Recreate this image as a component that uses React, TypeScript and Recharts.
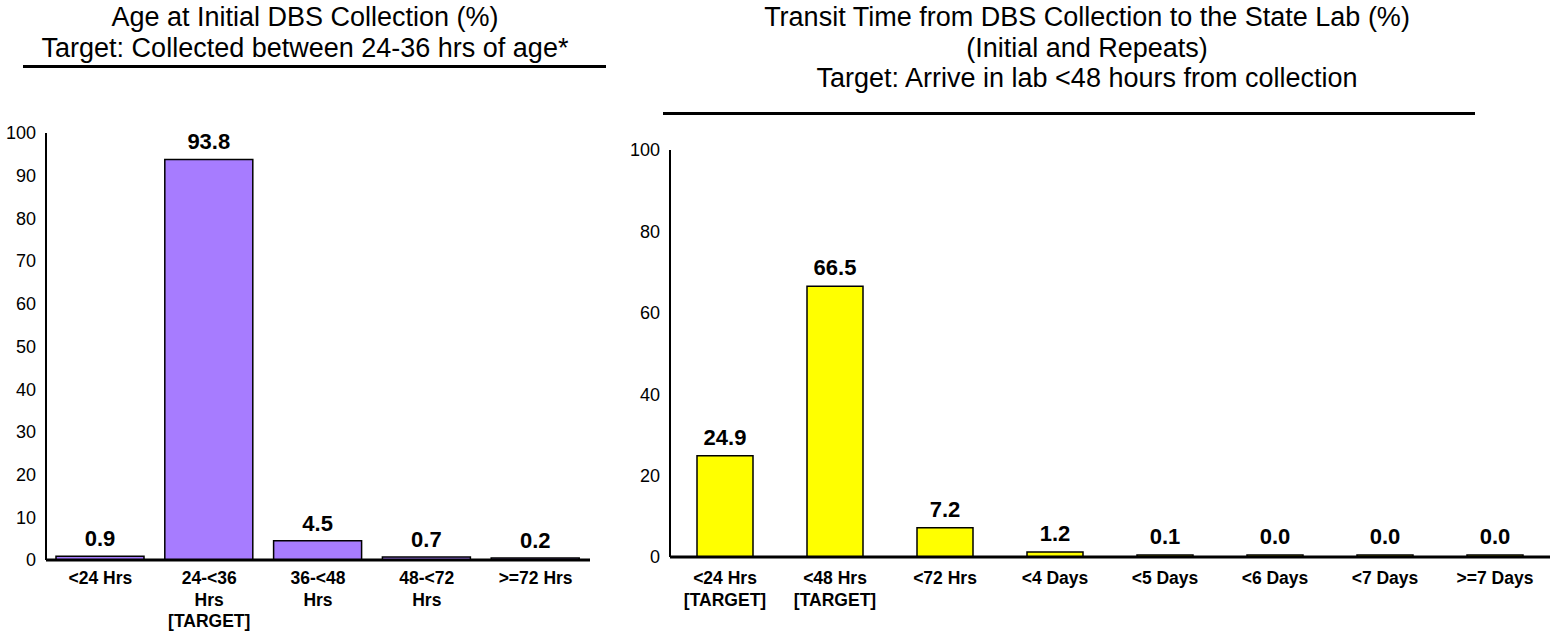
import React from "react";
import { BarChart, Bar, XAxis, YAxis, LabelList } from "recharts";

const ageCategories = ["<24 Hrs", "24-<36\nHrs\n[TARGET]", "36-<48\nHrs", "48-<72\nHrs", ">=72 Hrs"];
const ageValues = [0.9, 93.8, 4.5, 0.7, 0.2];
const ageTicks = [0, 10, 20, 30, 40, 50, 60, 70, 80, 90, 100];

const transitCategories = [
  "<24 Hrs\n[TARGET]",
  "<48 Hrs\n[TARGET]",
  "<72 Hrs",
  "<4 Days",
  "<5 Days",
  "<6 Days",
  "<7 Days",
  ">=7 Days",
];
const transitValues = [24.9, 66.5, 7.2, 1.2, 0.1, 0.0, 0.0, 0.0];
const transitTicks = [0, 20, 40, 60, 80, 100];

const ageData = ageCategories.map((name, i) => ({ name, value: ageValues[i] }));
const transitData = transitCategories.map((name, i) => ({ name, value: transitValues[i] }));

const FONT = "'Liberation Sans', Arial, sans-serif";

// tick label split on \n into several lines
function MultiTick(props: any) {
  const { x, y, payload, first } = props;
  const lines = String(payload.value).split("\n");
  return (
    <g transform={`translate(${x},${y})`}>
      {lines.map((l: string, i: number) => (
        <text
          key={i}
          x={0}
          y={i * 21.5 + first}
          textAnchor="middle"
          fontFamily={FONT}
          fontSize={17.5}
          fontWeight="bold"
          fill="#000"
        >
          {l}
        </text>
      ))}
    </g>
  );
}

const yTick = { fontSize: 18, fill: "#000", fontFamily: FONT };
const valueStyle = { fontSize: 22, fontWeight: "bold", fill: "#000", fontFamily: FONT };
const fmt = (v: any) => Number(v).toFixed(1);

function Title({ lines, cx, top }: { lines: string[]; cx: number; top: number }) {
  return (
    <div
      style={{
        position: "absolute",
        left: cx - 450,
        top,
        width: 900,
        textAlign: "center",
        fontFamily: FONT,
        fontSize: 27,
        lineHeight: "30.5px",
        color: "#000",
      }}
    >
      {lines.map((l, i) => (
        <div key={i}>{l}</div>
      ))}
    </div>
  );
}

export default function App() {
  return (
    <div
      style={{
        position: "absolute",
        left: 0,
        top: 0,
        width: 1560,
        height: 631,
        background: "#fff",
        overflow: "hidden",
      }}
    >
      <Title
        lines={["Age at Initial DBS Collection (%)", "Target: Collected between 24-36 hrs of age*"]}
        cx={305}
        top={2}
      />
      <div style={{ position: "absolute", left: 23, top: 65, width: 583, height: 2.5, background: "#000" }} />

      <Title
        lines={[
          "Transit Time from DBS Collection to the State Lab (%)",
          "(Initial and Repeats)",
          "Target: Arrive in lab <48 hours from collection",
        ]}
        cx={1087}
        top={2}
      />
      <div style={{ position: "absolute", left: 663, top: 112, width: 812, height: 2.5, background: "#000" }} />

      <div style={{ position: "absolute", left: 0, top: 0 }}>
        <BarChart width={600} height={631} data={ageData} margin={{ top: 133, right: 10, bottom: 0, left: 0 }}>
          <XAxis
            dataKey="name"
            height={71}
            interval={0}
            tickLine={false}
            axisLine={{ stroke: "#000", strokeWidth: 3 }}
            tick={<MultiTick first={16} />}
          />
          <YAxis
            width={46}
            domain={[0, 100]}
            ticks={ageTicks}
            interval={0}
            tickLine={false}
            tickMargin={4}
            axisLine={{ stroke: "#000", strokeWidth: 2 }}
            tick={yTick}
          />
          <Bar
            dataKey="value"
            fill="#A77CFF"
            stroke="#000"
            strokeWidth={1.5}
            barSize={88}
            minPointSize={2}
            isAnimationActive={false}
          >
            <LabelList dataKey="value" position="top" offset={10} formatter={fmt} style={valueStyle} />
          </Bar>
        </BarChart>
      </div>

      <div style={{ position: "absolute", left: 620, top: 0 }}>
        <BarChart width={940} height={631} data={transitData} margin={{ top: 150, right: 10, bottom: 0, left: 0 }}>
          <XAxis
            dataKey="name"
            height={74}
            interval={0}
            tickLine={false}
            axisLine={{ stroke: "#000", strokeWidth: 3 }}
            tick={<MultiTick first={19} />}
          />
          <YAxis
            width={50}
            domain={[0, 100]}
            ticks={transitTicks}
            interval={0}
            tickLine={false}
            tickMargin={4}
            axisLine={{ stroke: "#000", strokeWidth: 2 }}
            tick={yTick}
          />
          <Bar
            dataKey="value"
            fill="#FFFF00"
            stroke="#000"
            strokeWidth={1.5}
            barSize={56}
            minPointSize={2}
            isAnimationActive={false}
          >
            <LabelList dataKey="value" position="top" offset={11} formatter={fmt} style={valueStyle} />
          </Bar>
        </BarChart>
      </div>
    </div>
  );
}
